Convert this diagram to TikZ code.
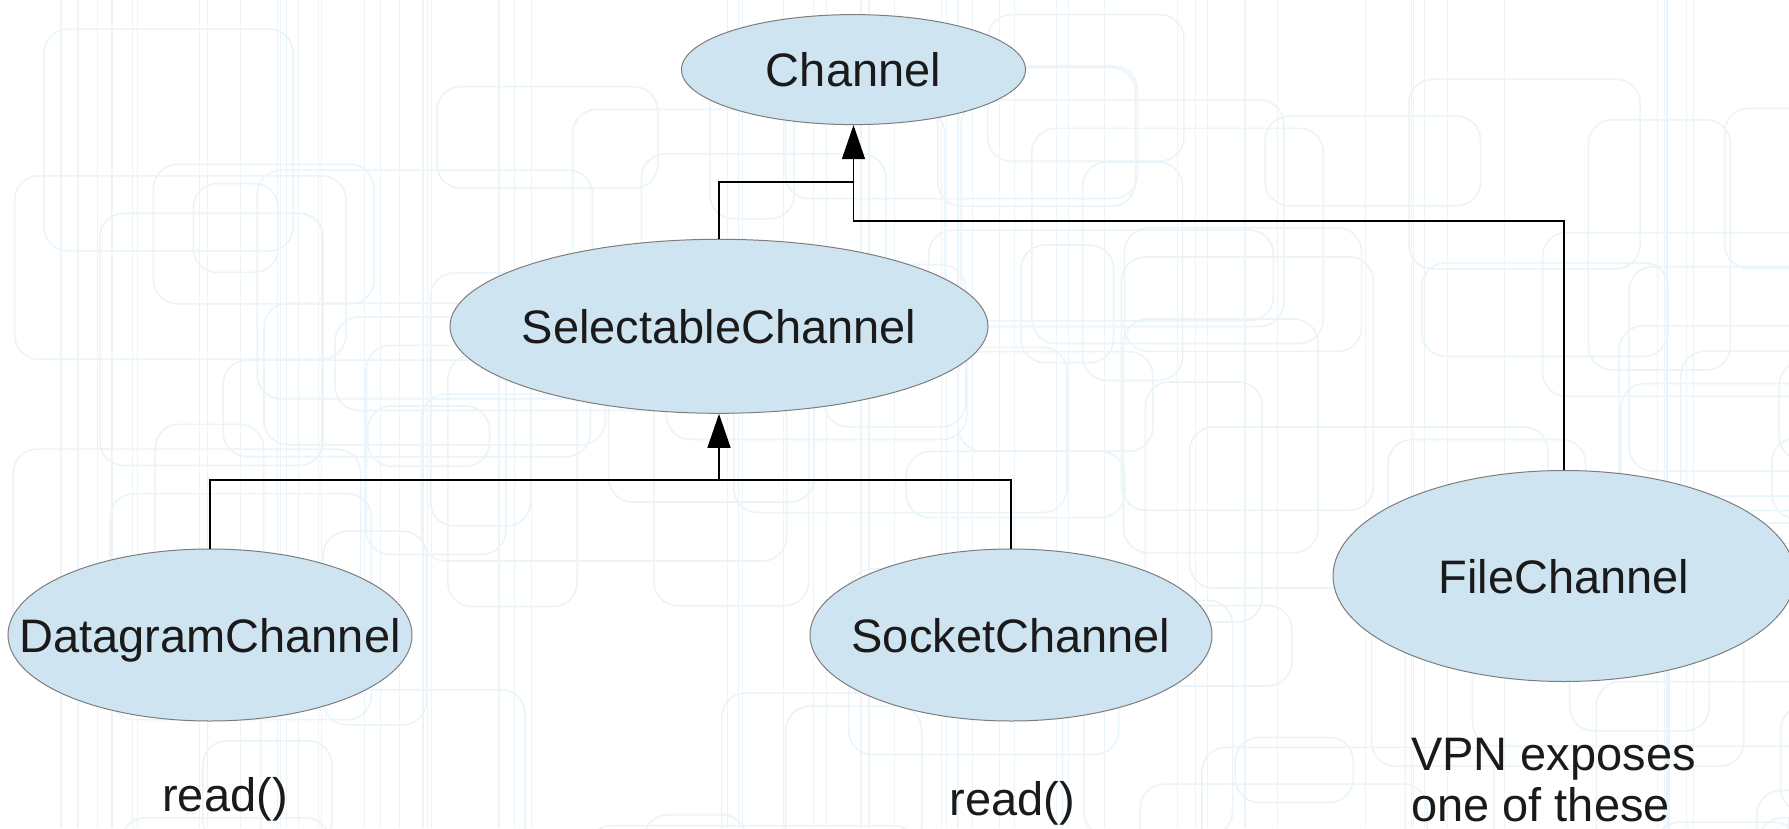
\documentclass[tikz,border=0pt]{standalone}
\usepackage{fontspec}
\setmainfont{Liberation Sans}
\usetikzlibrary{shapes.geometric,arrows.meta}
\definecolor{clsfill}{RGB}{207,228,241}
\definecolor{bord}{RGB}{125,125,125}
\definecolor{ink}{RGB}{26,26,26}
\definecolor{bgline}{RGB}{235,244,249}
\begin{document}
\begin{tikzpicture}[x=1pt,y=-1pt,
  classnode/.style={ellipse, draw=bord, line width=1pt, fill=clsfill, inner sep=0pt},
  lbl/.style={font=\fontsize{47}{52}\selectfont, text=ink, inner sep=0pt, text height=34pt, text depth=0pt},
  note/.style={font=\fontsize{47}{52}\selectfont, text=ink, inner sep=0pt},
  conn/.style={line width=1.5pt, draw=black},
  inh/.style={conn, -{Triangle[length=34pt,width=23pt]}},
  bgrect/.style={draw=bgline, line width=1.6pt, rounded corners=24pt},
  bgvert/.style={draw=bgline, line width=1.2pt}
]
\useasboundingbox (0,0) rectangle (1789,828);
\fill[white] (0,0) rectangle (1789,828);
\begin{scope}
  \clip (0,0) rectangle (1789,828);
  \pgfmathsetseed{42}
  \foreach \i in {1,...,80} {
    \pgfmathsetmacro\bx{rnd*1789}
    \pgfmathsetmacro\by{rnd*828}
    \pgfmathsetmacro\bw{80+rnd*300}
    \pgfmathsetmacro\bh{60+rnd*200}
    \draw[bgrect] (\bx,\by) rectangle ++(\bw,\bh);
  }
  \foreach \i in {1,...,60} {
    \pgfmathsetmacro\vx{rnd*1789}
    \draw[bgvert] (\vx,0) -- (\vx,828);
  }
\end{scope}

% classes
\node[classnode, minimum width=344pt, minimum height=110pt] (channel) at (853.5,69.6) {};
\node[lbl] (channelT) at (channel) {Channel};
\node[classnode, minimum width=538pt, minimum height=174pt] (sel) at (719,326.3) {};
\node[lbl] (selT) at (sel) {SelectableChannel};
\node[classnode, minimum width=404pt, minimum height=172pt] (dgram) at (210,635) {};
\node[lbl] (dgramT) at (dgram) {DatagramChannel};
\node[classnode, minimum width=402pt, minimum height=172pt] (socket) at (1011,635) {};
\node[lbl] (socketT) at (socket) {SocketChannel};
\node[classnode, minimum width=462pt, minimum height=211pt] (file) at (1564,576) {};
\node[lbl] (fileT) at (file) {FileChannel};

% notes
\node[note, anchor=base] (read1) at (225,811.7) {read()};
\node[note, anchor=base] (read2) at (1012.5,815) {read()};
\node[note, anchor=base west] (vpn1) at (1411,770) {VPN exposes};
\node[note, anchor=base west] (vpn2) at (1411,821) {one of these};

% connectors
\coordinate (j1) at (channel.south |- 0,182);
\coordinate (j2) at (channel.south |- 0,221);
\coordinate (j3) at (sel.south |- 0,480);
\draw[conn] (sel.north) |- (j1);
\draw[inh] (file.north) |- (j2) -- (channel.south);
\draw[conn] (dgram.north) |- (j3);
\draw[conn] (socket.north) |- (j3);
\draw[inh] (j3) -- (sel.south);
\end{tikzpicture}
\end{document}
